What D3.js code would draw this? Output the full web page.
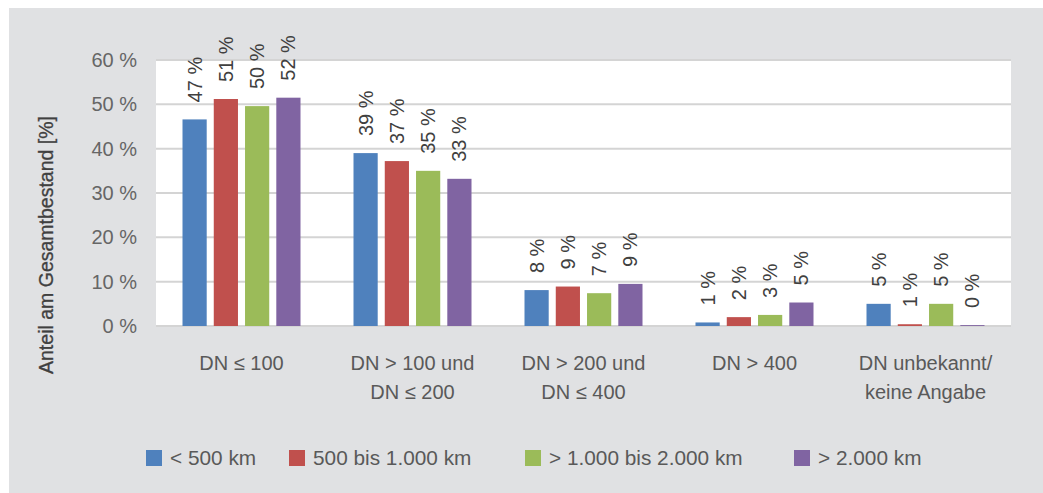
<!DOCTYPE html>
<html>
<head>
<meta charset="utf-8">
<script src="https://cdn.jsdelivr.net/npm/d3@7/dist/d3.min.js"></script>
<style>
  html, body { margin: 0; padding: 0; background: #ffffff; }
  svg { display: block; }
  text { font-family: "Liberation Sans", Arial, sans-serif; }
</style>
</head>
<body>
<script>
// ---- data ----
const categories = [
  ["DN \u2264 100"],
  ["DN > 100 und", "DN \u2264 200"],
  ["DN > 200 und", "DN \u2264 400"],
  ["DN > 400"],
  ["DN unbekannt/", "keine Angabe"]
];
const seriesNames = ["< 500 km", "500 bis 1.000 km", "> 1.000 bis 2.000 km", "> 2.000 km"];
const seriesColors = ["#4f81bd", "#c0504d", "#9bbb59", "#8064a2"];
const valuesLt500   = [46.6, 39.0, 8.1, 0.8, 5.0];
const values500to1000 = [51.2, 37.2, 8.9, 2.0, 0.4];
const values1000to2000 = [49.6, 35.0, 7.4, 2.5, 5.0];
const valuesGt2000  = [51.5, 33.2, 9.5, 5.3, 0.2];
const labelsLt500   = ["47 %", "39 %", "8 %", "1 %", "5 %"];
const labels500to1000 = ["51 %", "37 %", "9 %", "2 %", "1 %"];
const labels1000to2000 = ["50 %", "35 %", "7 %", "3 %", "5 %"];
const labelsGt2000  = ["52 %", "33 %", "9 %", "5 %", "0 %"];
const yTicks = [0, 10, 20, 30, 40, 50, 60];
const yTitle = "Anteil am Gesamtbestand [%]";

const seriesValues = [valuesLt500, values500to1000, values1000to2000, valuesGt2000];
const seriesLabels = [labelsLt500, labels500to1000, labels1000to2000, labelsGt2000];

// ---- layout ----
const W = 1043, H = 493;
const plot = { left: 156, right: 1011, top: 60, bottom: 326 };
const legendX = [146, 289, 525, 794];

const svg = d3.select("body").append("svg").attr("width", W).attr("height", H);

// background panel
svg.append("rect").attr("x", 9).attr("y", 8).attr("width", W - 9).attr("height", H - 8).attr("fill", "#e0e1e3");
svg.append("rect").attr("x", plot.left).attr("y", plot.top).attr("width", plot.right - plot.left)
   .attr("height", plot.bottom - plot.top).attr("fill", "#ffffff");

const catIdx = d3.range(categories.length);
const x0 = d3.scaleBand().domain(catIdx).range([plot.left, plot.right]).padding(0);
const groupW = 118;
const x1 = d3.scaleBand().domain(d3.range(seriesNames.length))
  .range([(x0.bandwidth() - groupW) / 2, (x0.bandwidth() + groupW) / 2]).paddingInner(0.226);
const y = d3.scaleLinear().domain([0, 60]).range([plot.bottom, plot.top]);

// gridlines
svg.append("g").selectAll("line").data(yTicks).join("line")
  .attr("x1", plot.left).attr("x2", plot.right)
  .attr("y1", d => y(d)).attr("y2", d => y(d))
  .attr("stroke", "#d4d4d4").attr("stroke-width", 2);

// y axis labels
const yAxis = d3.axisLeft(y).tickValues(yTicks).tickFormat(d => d + " %").tickSize(0).tickPadding(0);
const yg = svg.append("g").attr("transform", `translate(${plot.left - 19},0)`).call(yAxis);
yg.select(".domain").remove();
yg.selectAll("text").attr("font-size", 20).attr("fill", "#666666")
  .attr("font-family", "'Liberation Sans', Arial, sans-serif");

// y title
svg.append("text")
  .attr("transform", `translate(53,${(plot.top + plot.bottom) / 2 + 52}) rotate(-90)`)
  .attr("text-anchor", "middle").attr("font-size", 19.5).attr("fill", "#404040")
  .attr("stroke", "#404040").attr("stroke-width", 0.3)
  .text(yTitle);

// bars
const groups = svg.append("g").selectAll("g").data(seriesNames).join("g")
  .attr("fill", (d, i) => seriesColors[i]);
groups.each(function (name, si) {
  const g = d3.select(this);
  g.selectAll("rect").data(seriesValues[si]).join("rect")
    .attr("x", (v, ci) => x0(ci) + x1(si))
    .attr("width", x1.bandwidth())
    .attr("y", v => y(v))
    .attr("height", v => y(0) - y(v));
  g.selectAll("text").data(seriesValues[si]).join("text")
    .attr("transform", (v, ci) => `translate(${x0(ci) + x1(si) + x1.bandwidth() / 2 + 7},${y(v) - 17}) rotate(-90)`)
    .attr("text-anchor", "start")
    .attr("font-size", 20).attr("fill", "#404040")
    .text((v, ci) => seriesLabels[si][ci]);
});

// category labels
const xg = svg.append("g");
categories.forEach((lines, ci) => {
  const t = xg.append("text").attr("text-anchor", "middle").attr("font-size", 20).attr("fill", "#595959");
  lines.forEach((ln, li) => {
    t.append("tspan").attr("x", x0(ci) + x0.bandwidth() / 2).attr("y", 370 + li * 29).text(ln);
  });
});

// legend
const legend = svg.append("g");
seriesNames.forEach((name, i) => {
  legend.append("rect").attr("x", legendX[i]).attr("y", 450).attr("width", 16).attr("height", 16).attr("fill", seriesColors[i]);
  legend.append("text").attr("x", legendX[i] + 24).attr("y", 465).attr("font-size", 20.8).attr("fill", "#595959").text(name);
});
</script>
</body>
</html>
